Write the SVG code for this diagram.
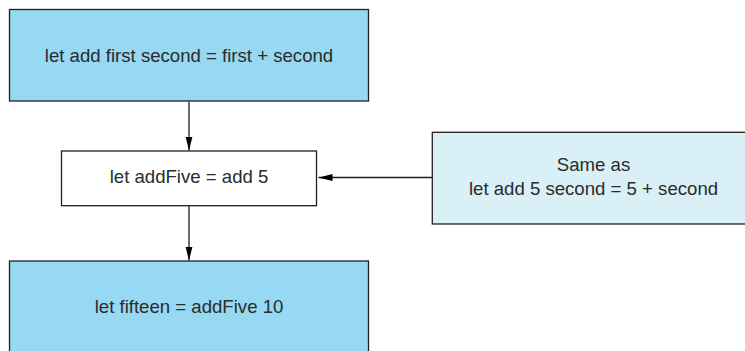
<svg xmlns="http://www.w3.org/2000/svg" width="745" height="351" viewBox="0 0 745 351">
<style>
.box{stroke:#231f20;stroke-width:1.3}
.dark{fill:#97d8f2}
.light{fill:#d9f0f7}
.white{fill:#ffffff}
text{font-family:"Liberation Sans",Arial,sans-serif;font-size:18.6px;fill:#2b2b2b;text-anchor:middle}
.conn{stroke:#231f20;stroke-width:1.3;fill:none}
</style>
<defs>
<marker id="ah" viewBox="0 0 14 8" refX="14" refY="4" markerWidth="14" markerHeight="8" markerUnits="userSpaceOnUse" orient="auto">
<path d="M0,0.5 L14,4 L0,7.5 Z" fill="#000000"/>
</marker>
</defs>
<g id="connectors">
<line class="conn" x1="189" y1="101.5" x2="189" y2="150.5" marker-end="url(#ah)"/>
<line class="conn" x1="189" y1="205.7" x2="189" y2="260.5" marker-end="url(#ah)"/>
<line class="conn" x1="432" y1="177.5" x2="318.5" y2="177.5" marker-end="url(#ah)"/>
</g>
<g id="node-add">
<rect class="box dark" x="9.5" y="9.5" width="359" height="91.5"/>
<text x="189" y="62">let add first second = first + second</text>
</g>
<g id="node-addFive">
<rect class="box white" x="61.5" y="151" width="255" height="54.7"/>
<text x="189" y="183">let addFive = add 5</text>
</g>
<g id="node-same">
<rect class="box light" x="432.3" y="132.3" width="323" height="91.7"/>
<text x="593.5" y="171">Same as</text>
<text x="593.5" y="194.5">let add 5 second = 5 + second</text>
</g>
<g id="node-fifteen">
<rect class="box dark" x="9.5" y="261" width="359" height="92"/>
<text x="189" y="313">let fifteen = addFive 10</text>
</g>
</svg>
